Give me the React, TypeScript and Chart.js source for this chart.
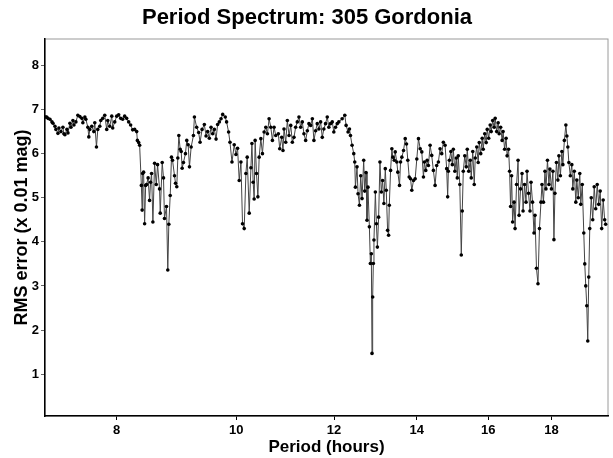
import React, { useEffect, useRef } from "react";
import { Chart, registerables } from "chart.js";

Chart.register(...registerables);

const TITLE = "Period Spectrum: 305 Gordonia";
const X_LABEL = "Period (hours)";
const Y_LABEL = "RMS error (x 0.01 mag)";
const X_TICKS = [8, 10, 12, 14, 16, 18];
const Y_TICKS = [1, 2, 3, 4, 5, 6, 7, 8];

const periods = [
  7.007, 7.022, 7.039, 7.065, 7.091, 7.105, 7.131, 7.144, 7.171, 7.184, 7.211, 7.238, 7.251, 7.265, 7.292, 7.306,
  7.333, 7.347, 7.374, 7.388, 7.415, 7.442, 7.47, 7.498, 7.512, 7.54, 7.554, 7.582, 7.596, 7.61, 7.638, 7.667,
  7.681, 7.705, 7.724, 7.753, 7.767, 7.796, 7.825, 7.854, 7.869, 7.898, 7.928, 7.942, 7.972, 8.002, 8.031, 8.061,
  8.091, 8.121, 8.151, 8.182, 8.212, 8.243, 8.274, 8.305, 8.316, 8.336, 8.351, 8.378, 8.39, 8.398, 8.413, 8.429,
  8.445, 8.46, 8.484, 8.507, 8.523, 8.539, 8.56, 8.587, 8.614, 8.635, 8.667, 8.678, 8.71, 8.731, 8.747, 8.78,
  8.801, 8.818, 8.841, 8.862, 8.879, 8.912, 8.929, 8.95, 8.967, 8.984, 9.007, 9.024, 9.04, 9.062, 9.096, 9.118,
  9.142, 9.164, 9.193, 9.232, 9.249, 9.288, 9.323, 9.347, 9.382, 9.422, 9.452, 9.48, 9.51, 9.54, 9.569, 9.599,
  9.63, 9.658, 9.689, 9.72, 9.75, 9.797, 9.821, 9.858, 9.883, 9.92, 9.962, 9.994, 10.024, 10.055, 10.087, 10.117,
  10.149, 10.181, 10.206, 10.244, 10.277, 10.296, 10.32, 10.339, 10.358, 10.384, 10.411, 10.436, 10.469, 10.5,
  10.533, 10.566, 10.598, 10.631, 10.665, 10.697, 10.73, 10.764, 10.816, 10.844, 10.884, 10.91, 10.931, 10.966,
  10.999, 11.034, 11.069, 11.102, 11.136, 11.171, 11.205, 11.24, 11.276, 11.31, 11.345, 11.381, 11.417, 11.451,
  11.487, 11.524, 11.558, 11.595, 11.63, 11.666, 11.703, 11.739, 11.774, 11.811, 11.849, 11.884, 11.922, 11.96,
  11.995, 12.033, 12.071, 12.107, 12.182, 12.243, 12.273, 12.318, 12.35, 12.373, 12.41, 12.449, 12.472, 12.488,
  12.525, 12.549, 12.582, 12.612, 12.643, 12.682, 12.706, 12.737, 12.76, 12.783, 12.817, 12.841, 12.864, 12.88,
  12.896, 12.912, 12.927, 12.961, 12.986, 13.01, 13.04, 13.072, 13.106, 13.137, 13.169, 13.203, 13.227, 13.26,
  13.285, 13.302, 13.334, 13.366, 13.391, 13.426, 13.45, 13.49, 13.515, 13.558, 13.584, 13.617, 13.66, 13.703,
  13.736, 13.769, 13.805, 13.839, 13.872, 13.916, 13.96, 14.002, 14.046, 14.091, 14.133, 14.177, 14.203, 14.238,
  14.275, 14.309, 14.354, 14.397, 14.442, 14.488, 14.531, 14.577, 14.623, 14.668, 14.713, 14.76, 14.804, 14.832,
  14.85, 14.878, 14.92, 14.961, 14.989, 15.031, 15.072, 15.1, 15.128, 15.171, 15.213, 15.241, 15.27, 15.312,
  15.355, 15.384, 15.426, 15.47, 15.498, 15.542, 15.585, 15.614, 15.658, 15.701, 15.731, 15.775, 15.818, 15.848,
  15.893, 15.937, 15.967, 16.011, 16.056, 16.086, 16.13, 16.175, 16.206, 16.251, 16.296, 16.326, 16.372, 16.417,
  16.447, 16.493, 16.539, 16.57, 16.616, 16.647, 16.678, 16.71, 16.741, 16.787, 16.818, 16.865, 16.912, 16.944,
  16.991, 17.038, 17.07, 17.118, 17.165, 17.197, 17.245, 17.293, 17.326, 17.374, 17.422, 17.455, 17.503, 17.552,
  17.601, 17.65, 17.683, 17.732, 17.782, 17.815, 17.865, 17.914, 17.947, 17.998, 18.048, 18.082, 18.115, 18.166,
  18.216, 18.25, 18.301, 18.352, 18.386, 18.437, 18.489, 18.523, 18.557, 18.592, 18.643, 18.695, 18.73, 18.782,
  18.835, 18.87, 18.922, 18.975, 19.01, 19.063, 19.117, 19.152, 19.188, 19.224, 19.259, 19.295, 19.331, 19.385,
  19.439, 19.493, 19.547, 19.602, 19.656, 19.711, 19.766, 19.821, 19.876, 19.913,
];

const rms = [
  6.83, 6.83, 6.8, 6.78, 6.72, 6.69, 6.62, 6.55, 6.46, 6.58, 6.5, 6.6, 6.45, 6.43, 6.55, 6.47,
  6.69, 6.6, 6.75, 6.65, 6.72, 6.87, 6.84, 6.8, 6.7, 6.83, 6.78, 6.6, 6.38, 6.55, 6.62, 6.5,
  6.7, 6.15, 6.55, 6.62, 6.75, 6.8, 6.87, 6.55, 6.75, 6.62, 6.85, 6.58, 6.72, 6.85, 6.88, 6.8,
  6.78, 6.85, 6.8, 6.72, 6.65, 6.54, 6.55, 6.5, 6.3, 6.25, 6.19, 5.28, 4.72, 5.55, 5.58, 4.41,
  5.28, 5.3, 5.45, 4.94, 5.35, 5.55, 4.45, 5.78, 5.3, 5.75, 5.2, 4.65, 5.8, 5.45, 4.53, 4.8,
  3.36, 4.4, 5.05, 5.92, 5.85, 5.5, 5.33, 5.25, 5.9, 6.41, 6.1, 6.05, 5.67, 5.8, 6.0, 6.3,
  6.2, 5.7, 6.15, 6.41, 6.83, 6.6, 6.48, 6.26, 6.55, 6.66, 6.4, 6.5, 6.35, 6.6, 6.45, 6.55,
  6.33, 6.66, 6.72, 6.79, 6.89, 6.83, 6.72, 6.49, 6.26, 5.81, 6.2, 5.98, 6.12, 5.39, 5.81, 4.41,
  4.3, 5.55, 5.92, 4.65, 5.68, 6.23, 5.35, 4.97, 6.3, 5.55, 5.02, 5.92, 6.34, 6.0,
  6.49, 6.6, 6.45, 6.79, 6.6, 6.3, 6.6, 6.41, 6.45, 6.11, 6.37, 6.07, 6.56, 6.26,
  6.75, 6.41, 6.64, 6.26, 6.37, 6.6, 6.72, 6.83, 6.6, 6.72, 6.45, 6.3, 6.52, 6.68,
  6.64, 6.79, 6.3, 6.52, 6.68, 6.56, 6.72, 6.37, 6.56, 6.68, 6.83, 6.6, 6.68, 6.72,
  6.49, 6.6, 6.68, 6.72, 6.79, 6.87, 6.64, 6.49, 6.56, 6.41, 6.19, 6.0, 5.81, 5.24,
  5.7, 5.09, 4.83, 5.5, 4.98, 5.85, 5.15, 5.57, 4.49, 5.24, 4.34, 3.51, 3.73, 1.47,
  2.75, 3.51, 4.04, 5.13, 4.41, 3.88, 4.56, 5.81, 5.13, 5.39, 4.87, 5.66, 5.17, 4.26,
  4.15, 4.83, 5.62, 6.11, 5.92, 5.85, 6.04, 5.81, 5.58, 5.28, 5.81, 5.92, 6.07, 6.34,
  6.22, 5.85, 5.47, 5.43, 5.17, 5.39, 5.43, 5.88, 6.34, 6.11, 6.04, 5.47, 5.81, 5.62,
  5.85, 5.73, 6.19, 5.96, 5.62, 5.28, 5.73, 5.81, 6.11, 6.0, 6.26, 6.19, 5.66, 5.02,
  5.6, 5.85, 6.05, 5.75, 6.1, 5.6, 5.9, 5.45, 5.95, 5.3, 3.7, 4.7, 5.6, 5.95,
  5.7, 6.1, 5.6, 5.85, 5.45, 6.05, 5.3, 5.9, 6.15, 5.8, 6.25, 6.0, 6.35, 6.1,
  6.45, 6.25, 6.55, 6.35, 6.65, 6.5, 6.75, 6.6, 6.8, 6.5, 6.7, 6.45, 6.6, 6.3,
  6.5, 6.1, 6.35, 5.95, 6.1, 5.6, 4.8, 5.5, 4.45, 4.9, 4.3, 5.3, 5.85, 4.6,
  5.2, 5.55, 4.7, 5.3, 4.9, 5.6, 5.1, 4.7, 5.35, 4.9, 4.2, 4.6, 3.4, 3.05,
  4.3, 4.9, 5.3, 4.9, 5.6, 5.2, 5.85, 5.3, 5.65, 5.2, 5.6, 4.05, 5.1, 5.8,
  5.4, 5.95, 5.5, 6.05, 5.75, 6.3, 6.65, 6.4, 6.15, 5.8, 5.5, 5.75, 5.2, 5.6,
  4.9, 5.4, 5.0, 5.55, 4.85, 5.3, 4.2, 3.5, 3.0, 2.55, 1.75, 3.2, 4.3, 5.0,
  4.5, 5.25, 4.75, 5.3, 4.85, 5.15, 4.3, 4.95, 4.5, 4.4,
];

const FONT = "'Liberation Sans', Arial, Helvetica, sans-serif";

export default function App() {
  const ref = useRef<HTMLCanvasElement | null>(null);

  useEffect(() => {
    document.body.style.margin = "0";
    const canvas = ref.current;
    if (!canvas) return;

    const textPlugin = {
      id: "textPlugin",
      beforeDraw(chart: any) {
        const { ctx, chartArea } = chart;
        ctx.save();
        ctx.strokeStyle = "#9a9a9a";
        ctx.lineWidth = 1;
        ctx.strokeRect(chartArea.left, chartArea.top, chartArea.right - chartArea.left, chartArea.bottom - chartArea.top);
        ctx.restore();
      },
      afterDraw(chart: any) {
        const { ctx, chartArea } = chart;
        ctx.save();
        ctx.fillStyle = "#000";
        ctx.textAlign = "center";
        ctx.textBaseline = "middle";
        ctx.font = `bold 22px ${FONT}`;
        ctx.fillText(TITLE, 307, 18);
        ctx.font = `bold 17px ${FONT}`;
        ctx.fillText(X_LABEL, (chartArea.left + chartArea.right) / 2, 447);
        ctx.font = `bold 18px ${FONT}`;
        ctx.translate(22, (chartArea.top + chartArea.bottom) / 2);
        ctx.rotate(-Math.PI / 2);
        ctx.fillText(Y_LABEL, 0, 0);
        ctx.restore();
      },
    };

    const chart = new Chart(canvas, {
      type: "line",
      data: {
        datasets: [
          {
            data: periods.map((p, i) => ({ x: p, y: rms[i] })),
            borderColor: "#444444",
            borderWidth: 1,
            pointRadius: 1.8,
            pointBackgroundColor: "#000",
            pointBorderWidth: 0,
            tension: 0,
          },
        ],
      },
      options: {
        responsive: false,
        animation: false,
        layout: { padding: { top: 39, right: 5, left: 0, bottom: 0 } },
        plugins: { legend: { display: false }, title: { display: false }, tooltip: { enabled: false } },
        scales: {
          x: {
            type: "logarithmic",
            min: 7,
            max: 20,
            afterBuildTicks: (s: any) => {
              s.ticks = X_TICKS.map((v) => ({ value: v }));
            },
            afterFit: (s: any) => {
              s.height = 42;
            },
            ticks: {
              autoSkip: false,
              maxRotation: 0,
              padding: 3,
              color: "#000",
              font: { family: FONT, size: 13, weight: "bold" },
              callback: (v: any) => String(v),
            },
            grid: { drawOnChartArea: false, tickLength: 4, color: "#000" },
            border: { color: "#000", width: 1.5 },
          },
          y: {
            type: "linear",
            min: 0.05,
            max: 8.6,
            afterBuildTicks: (s: any) => {
              s.ticks = Y_TICKS.map((v) => ({ value: v }));
            },
            afterFit: (s: any) => {
              s.width = 45;
            },
            ticks: {
              padding: 2,
              color: "#000",
              font: { family: FONT, size: 13, weight: "bold" },
              callback: (v: any) => String(v),
            },
            grid: { drawOnChartArea: false, tickLength: 4, color: "#666" },
            border: { color: "#000", width: 1.5 },
          },
        },
      },
      plugins: [textPlugin],
    });

    return () => chart.destroy();
  }, []);

  return (
    <div style={{ width: 613, height: 458, background: "#fff" }}>
      <canvas ref={ref} width={613} height={458} style={{ display: "block" }} />
    </div>
  );
}
